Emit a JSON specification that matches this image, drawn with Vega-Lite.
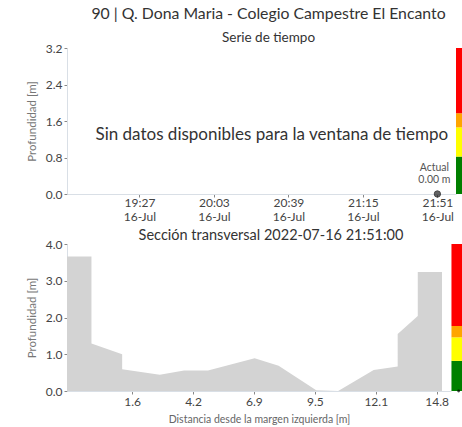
{
  "$schema": "https://vega.github.io/schema/vega-lite/v6.json",
  "padding": {"left": 26, "top": 5, "right": 0, "bottom": 0},
  "spacing": 5,
  "config": {
    "font": "Lato",
    "view": {"stroke": null},
    "axis": {
      "grid": false,
      "labelFont": "Lato",
      "labelFontSize": 12,
      "labelColor": "#444",
      "labelOverlap": false,
      "titleFont": "Lato",
      "titleFontWeight": "normal",
      "titleColor": "#777",
      "titleFontSize": 11.5,
      "domainColor": "#d9dfe6",
      "tickColor": "#888",
      "tickSize": 3
    },
    "axisY": {"titlePadding": 8},
    "title": {"font": "Lato", "fontWeight": "normal", "color": "#333", "subtitleFont": "Lato", "subtitleColor": "#333"}
  },
  "datasets": {
    "bandsTop": [
      {"level": "verde", "t0": "2022-07-16T22:00:00Z", "t1": "2022-07-16T22:03:20Z", "lo": 0, "hi": 0.82},
      {"level": "amarillo", "t0": "2022-07-16T22:00:00Z", "t1": "2022-07-16T22:03:20Z", "lo": 0.82, "hi": 1.46},
      {"level": "naranja", "t0": "2022-07-16T22:00:00Z", "t1": "2022-07-16T22:03:20Z", "lo": 1.46, "hi": 1.77},
      {"level": "rojo", "t0": "2022-07-16T22:00:00Z", "t1": "2022-07-16T22:03:20Z", "lo": 1.77, "hi": 3.2}
    ],
    "bandsBottom": [
      {"level": "verde", "x0": 15.42, "x1": 16.07, "lo": 0, "hi": 0.82},
      {"level": "amarillo", "x0": 15.42, "x1": 16.07, "lo": 0.82, "hi": 1.46},
      {"level": "naranja", "x0": 15.42, "x1": 16.07, "lo": 1.46, "hi": 1.77},
      {"level": "rojo", "x0": 15.42, "x1": 16.07, "lo": 1.77, "hi": 4.0}
    ],
    "profile": [
      {"x": -1.24, "d": 3.66},
      {"x": -0.18, "d": 3.66},
      {"x": -0.18, "d": 1.29},
      {"x": 1.15, "d": 1.0},
      {"x": 1.15, "d": 0.59},
      {"x": 2.78, "d": 0.44},
      {"x": 3.83, "d": 0.56},
      {"x": 4.87, "d": 0.56},
      {"x": 6.89, "d": 0.89},
      {"x": 7.93, "d": 0.69},
      {"x": 9.56, "d": 0.02},
      {"x": 10.51, "d": 0.0},
      {"x": 12.05, "d": 0.57},
      {"x": 13.09, "d": 0.67},
      {"x": 13.09, "d": 1.55},
      {"x": 13.96, "d": 2.04},
      {"x": 13.96, "d": 3.24},
      {"x": 15.01, "d": 3.24}
    ]
  },
  "vconcat": [
    {
      "width": 389,
      "height": 146,
      "title": {
        "text": "90 | Q. Dona Maria - Colegio Campestre El Encanto",
        "subtitle": "Serie de tiempo",
        "fontSize": 15.8,
        "subtitleFontSize": 13.5,
        "subtitlePadding": 8,
        "offset": -3,
        "dx": 7
      },
      "layer": [
        {
          "data": {"name": "bandsTop"},
          "mark": {"type": "rect"},
          "encoding": {
            "x": {
              "field": "t0",
              "type": "temporal",
              "scale": {
                "type": "utc",
                "domain": [
                  {"year": 2022, "month": 7, "date": 16, "hours": 18, "minutes": 52, "utc": true},
                  {"year": 2022, "month": 7, "date": 16, "hours": 22, "minutes": 0, "utc": true}
                ]
              },
              "axis": {
                "title": null,
                "tickCount": 20,
                "values": [
                  {"year": 2022, "month": 7, "date": 16, "hours": 19, "minutes": 27, "utc": true},
                  {"year": 2022, "month": 7, "date": 16, "hours": 20, "minutes": 3, "utc": true},
                  {"year": 2022, "month": 7, "date": 16, "hours": 20, "minutes": 39, "utc": true},
                  {"year": 2022, "month": 7, "date": 16, "hours": 21, "minutes": 15, "utc": true},
                  {"year": 2022, "month": 7, "date": 16, "hours": 21, "minutes": 51, "utc": true}
                ],
                "labelExpr": "[utcFormat(datum.value, '%H:%M'), utcFormat(datum.value, '%d-%b')]",
                "labelPadding": 0,
                "labelLineHeight": 14
              }
            },
            "x2": {"field": "t1"},
            "y": {
              "field": "lo",
              "type": "quantitative",
              "scale": {"domain": [0, 3.2], "nice": false},
              "axis": {"title": "Profundidad [m]", "tickCount": 20, "values": [0, 0.8, 1.6, 2.4, 3.2], "format": ".1f"}
            },
            "y2": {"field": "hi"},
            "color": {
              "field": "level",
              "type": "nominal",
              "scale": {"domain": ["verde", "amarillo", "naranja", "rojo"], "range": ["#008000", "#FFFF00", "#FFA500", "#FF0000"]},
              "legend": null
            }
          }
        },
        {
          "data": {"values": [{"t": "2022-07-16T20:31:00Z", "v": 1.29, "msg": "Sin datos disponibles para la ventana de tiempo"}]},
          "mark": {"type": "text", "fontSize": 17, "color": "#333", "baseline": "middle", "align": "center"},
          "encoding": {
            "x": {"field": "t", "type": "temporal"},
            "y": {"field": "v", "type": "quantitative"},
            "text": {"field": "msg"}
          }
        },
        {
          "data": {"values": [{"t": "2022-07-16T21:51:00Z", "v": 0, "lab": ["Actual", "0.00 m"]}]},
          "layer": [
            {
              "mark": {"type": "point", "shape": "circle", "filled": true, "color": "#222", "size": 40, "stroke": "#000", "strokeWidth": 1},
              "encoding": {
                "x": {"field": "t", "type": "temporal"},
                "y": {"field": "v", "type": "quantitative"}
              }
            },
            {
              "mark": {"type": "text", "fontSize": 10.5, "color": "#555", "baseline": "bottom", "align": "center", "dx": -3, "dy": -21, "lineHeight": 12},
              "encoding": {
                "x": {"field": "t", "type": "temporal"},
                "y": {"field": "v", "type": "quantitative"},
                "text": {"field": "lab"}
              }
            }
          ]
        }
      ]
    },
    {
      "width": 384,
      "height": 147,
      "title": {
        "text": "Sección transversal 2022-07-16 21:51:00",
        "fontSize": 14.5,
        "offset": -5,
        "dx": 12
      },
      "layer": [
        {
          "data": {"name": "profile"},
          "mark": {"type": "area", "color": "#d3d3d3", "opacity": 1},
          "encoding": {
            "x": {
              "field": "x",
              "type": "quantitative",
              "scale": {"domain": [-1.24, 15.4], "nice": false, "zero": false},
              "axis": {"title": "Distancia desde la margen izquierda [m]", "tickCount": 20, "titleFontSize": 10.5, "titleColor": "#666", "values": [1.58, 4.22, 6.86, 9.5, 12.14, 14.78], "format": ".1f", "titlePadding": 7, "labelPadding": 2}
            },
            "y": {
              "field": "d",
              "type": "quantitative",
              "stack": null,
              "scale": {"domain": [0, 4], "nice": false},
              "axis": {"title": "Profundidad [m]", "tickCount": 20, "values": [0, 1, 2, 3, 4], "format": ".1f"}
            }
          }
        },
        {
          "data": {"name": "bandsBottom"},
          "mark": {"type": "rect"},
          "encoding": {
            "x": {"field": "x0", "type": "quantitative"},
            "x2": {"field": "x1"},
            "y": {"field": "lo", "type": "quantitative"},
            "y2": {"field": "hi"},
            "color": {
              "field": "level",
              "type": "nominal",
              "scale": {"domain": ["verde", "amarillo", "naranja", "rojo"], "range": ["#008000", "#FFFF00", "#FFA500", "#FF0000"]},
              "legend": null
            }
          }
        },
        {
          "data": {"values": [{"x": 15.73, "d": 0}]},
          "mark": {"type": "point", "shape": "circle", "filled": true, "color": "#000", "size": 8},
          "encoding": {
            "x": {"field": "x", "type": "quantitative"},
            "y": {"field": "d", "type": "quantitative"}
          }
        }
      ]
    }
  ]
}
